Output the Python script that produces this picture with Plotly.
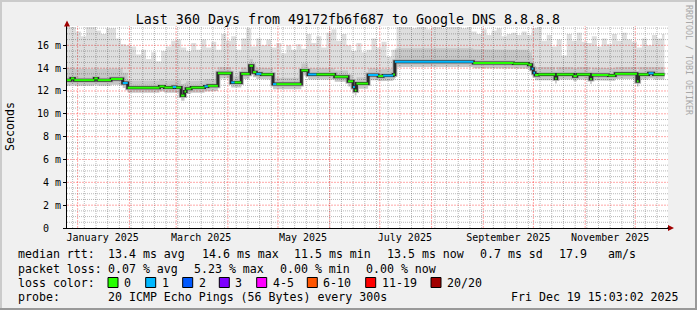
import plotly.graph_objects as go
import pandas as pd

# ---------------- data ----------------
X_START = "2024-12-25 15:00"
X_END = "2025-12-20 15:00"
DATA_END = "2025-12-18 12:00"
Y_MAX = 17.69

y_tick_vals = [0, 2, 4, 6, 8, 10, 12, 14, 16]
y_tick_text = ["0\u00a0\u00a0", "2 m", "4 m", "6 m", "8 m", "10 m", "12 m", "14 m", "16 m"]

month_starts = ["2025-01-01", "2025-02-01", "2025-03-01", "2025-04-01", "2025-05-01", "2025-06-01",
                "2025-07-01", "2025-08-01", "2025-09-01", "2025-10-01", "2025-11-01", "2025-12-01"]
x_label_dates = ["2025-01-16", "2025-03-16", "2025-05-16", "2025-07-16", "2025-09-16", "2025-11-16"]
x_label_text = ["January 2025", "March 2025", "May 2025", "July 2025", "September 2025", "November 2025"]

# median rtt (ms) breakpoints, loss level per segment, smoke bottom / smoke mid-band top
med_dates = ["2024-12-25", "2024-12-28", "2024-12-30", "2025-01-11", "2025-01-13", "2025-01-21",
             "2025-01-28", "2025-01-31", "2025-02-19", "2025-02-22", "2025-02-27", "2025-03-01",
             "2025-03-04", "2025-03-06", "2025-03-07", "2025-03-10", "2025-03-18", "2025-03-20",
             "2025-03-26", "2025-04-03", "2025-04-05", "2025-04-09", "2025-04-14", "2025-04-16",
             "2025-04-18", "2025-04-21", "2025-04-28", "2025-04-30", "2025-05-15", "2025-05-19",
             "2025-05-24", "2025-06-04", "2025-06-12", "2025-06-15", "2025-06-16", "2025-06-17",
             "2025-06-24", "2025-06-30", "2025-07-03", "2025-07-09", "2025-07-10", "2025-08-26",
             "2025-09-19", "2025-09-28", "2025-09-30", "2025-10-01", "2025-10-02", "2025-10-04",
             "2025-10-14", "2025-10-15", "2025-10-25", "2025-10-27", "2025-11-04", "2025-11-05",
             "2025-11-15", "2025-11-19", "2025-12-02", "2025-12-03", "2025-12-09", "2025-12-12"]
med_vals = [12.95, 13.10, 12.95, 13.10, 12.95, 13.05,
            12.70, 12.28, 12.40, 12.30, 12.35, 12.30,
            11.60, 11.95, 12.20, 12.30, 12.40, 12.45,
            13.55, 12.75, 12.75, 13.50, 14.20, 13.65,
            13.50, 13.45, 12.60, 12.60, 13.80, 13.45,
            13.45, 13.25, 12.85, 12.35, 12.05, 12.65,
            13.40, 13.30, 13.35, 13.45, 14.55, 14.45,
            14.40, 14.30, 13.95, 13.60, 13.40, 13.45,
            13.10, 13.45, 13.30, 13.45, 13.05, 13.40,
            13.35, 13.50, 12.85, 13.45, 13.55, 13.45]
med_loss = [0, 0, 0, 0, 0, 0,
            1, 0, 0, 0, 1, 0,
            0, 0, 0, 0, 1, 0,
            0, 1, 0, 0, 0, 0,
            1, 0, 1, 0, 0, 1,
            0, 0, 0, 1, 0, 0,
            1, 0, 1, 0, 1, 0,
            0, 0, 1, 1, 0, 0,
            0, 0, 0, 0, 0, 0,
            0, 0, 0, 0, 1, 0]
smoke_lo = [12.45, 12.55, 12.45, 12.55, 12.45, 12.55,
            12.25, 11.85, 11.95, 11.85, 11.90, 11.85,
            11.15, 11.50, 11.75, 11.85, 11.95, 12.00,
            13.10, 12.30, 12.30, 13.05, 13.70, 13.20,
            13.05, 13.00, 12.15, 12.15, 13.35, 13.00,
            13.00, 12.80, 12.40, 11.90, 11.60, 12.20,
            12.95, 12.85, 12.90, 13.00, 14.10, 14.00,
            13.95, 13.85, 13.50, 13.15, 12.95, 12.95,
            12.65, 13.00, 12.85, 13.00, 12.60, 12.95,
            12.90, 13.05, 12.40, 13.00, 13.10, 13.00]
smoke_mid = [14.00, 14.05, 13.95, 14.05, 13.95, 14.00,
             13.60, 12.90, 13.00, 12.90, 12.95, 12.95,
             12.60, 12.70, 12.85, 12.90, 13.00, 13.05,
             14.10, 13.30, 13.30, 14.05, 14.80, 14.20,
             14.05, 14.00, 13.15, 13.15, 14.40, 14.00,
             14.00, 13.80, 13.40, 12.90, 12.70, 13.20,
             14.00, 13.90, 13.95, 14.00, 15.75, 15.65,
             15.60, 15.40, 14.90, 14.40, 14.10, 14.10,
             13.80, 14.10, 14.00, 14.10, 13.80, 14.05,
             14.00, 14.10, 13.60, 14.10, 14.15, 14.10]

# smoke top (slowest ping) every 3 days from SMOKE_START
SMOKE_START = "2024-12-25"
smoke_max = [17.6, 17.6, 17.2, 16.8, 17.6, 17.6, 17.3, 17.0, 17.5, 17.5,
             16.6, 16.1, 16.0, 15.9, 15.2, 15.6, 14.8, 15.4, 14.6, 15.5,
             15.9, 16.4, 16.5, 15.8, 15.5, 16.2, 15.6, 16.5, 15.8, 16.3,
             15.6, 17.0, 16.4, 16.8, 15.6, 16.6, 17.5, 15.9, 16.6, 16.0,
             16.5, 15.8, 16.2, 15.3, 16.0, 15.6, 16.1, 15.7, 17.0, 16.2,
             16.8, 15.8, 17.1, 17.4, 16.4, 17.0, 16.0, 15.5, 16.2, 15.4,
             15.6, 16.6, 15.8, 16.3, 15.0, 15.6, 17.6, 17.6, 17.6, 17.5,
             17.6, 17.6, 17.4, 17.6, 17.6, 17.5, 17.6, 17.6, 17.6, 17.5,
             17.6, 17.2, 17.0, 17.4, 16.9, 17.3, 17.5, 16.8, 17.0, 17.1,
             16.9, 17.2, 16.9, 17.5, 17.6, 16.4, 16.9, 15.9, 16.5, 15.1,
             17.0, 16.4, 17.1, 16.3, 16.2, 16.8, 15.9, 16.6, 16.1, 17.0,
             16.4, 17.1, 16.5, 16.3, 15.8, 16.6, 16.0, 16.9, 16.6, 17.0]

loss_colors = ["#26ff00", "#00b8ff", "#0059ff", "#7e00ff", "#ff00ff", "#ff5500", "#ff0000", "#a10000"]
loss_labels = ["0", "1", "2", "3", "4-5", "6-10", "11-19", "20/20"]

title_text = "Last 360 Days from 49172fb6f687 to Google DNS 8.8.8.8"
row_median = [("median rtt:", 16.7), ("13.4 ms avg", 107), ("14.6 ms max", 200.7), ("11.5 ms min", 293),
              ("13.5 ms now", 386), ("0.7 ms sd", 479), ("17.9", 558), ("am/s", 607)]
row_loss = [("packet loss:", 16.7), ("0.07 % avg", 107), ("5.23 % max", 192.7), ("0.00 % min", 279),
            ("0.00 % now", 365)]
loss_box_x = [108, 145.7, 182.7, 219.3, 256.7, 307.3, 365.7, 431]
probe_text = "20 ICMP Echo Pings (56 Bytes) every 300s"
stamp_text = "Fri Dec 19 15:03:02 2025"

# ---------------- geometry helpers ----------------
W, H = 697, 310
L, R, T, B = 67, 668, 26, 228
FONT = "DejaVu Sans Mono"


def px(xp):
    return (xp - L) / (R - L)


def py(yp):
    return (B - yp) / (B - T)


def steps(dates, vals, end):
    xs, ys = [], []
    for i, v in enumerate(vals):
        x1 = dates[i + 1] if i + 1 < len(dates) else end
        xs += [dates[i], x1]
        ys += [v, v]
    return xs, ys


smoke_dates = [d.strftime("%Y-%m-%d") for d in pd.date_range(SMOKE_START, periods=len(smoke_max), freq="3D")]

fig = go.Figure()

# outer smoke
tx, ty = steps(smoke_dates, smoke_max, DATA_END)
bx, by = steps(med_dates, smoke_lo, DATA_END)
fig.add_trace(go.Scatter(x=tx + bx[::-1], y=ty + by[::-1], fill="toself", mode="lines",
                         line=dict(width=0), fillcolor="rgba(0,0,0,0.13)", hoverinfo="skip"))
# mid smoke band
mx, my = steps(med_dates, smoke_mid, DATA_END)
fig.add_trace(go.Scatter(x=mx + bx[::-1], y=my + by[::-1], fill="toself", mode="lines",
                         line=dict(width=0), fillcolor="rgba(0,0,0,0.10)", hoverinfo="skip"))
# dense smoke around median
line_x = med_dates + [DATA_END]
line_y = med_vals + [med_vals[-1]]
fig.add_trace(go.Scatter(x=line_x, y=line_y, mode="lines", line=dict(shape="hv", width=5, color="#b4b4b4"),
                         hoverinfo="skip"))
fig.add_trace(go.Scatter(x=line_x, y=line_y, mode="lines", line=dict(shape="hv", width=3, color="#2a2a2a"),
                         hoverinfo="skip"))

# loss-coloured median segments
for lvl in sorted(set(med_loss)):
    xs, ys = [], []
    for i, v in enumerate(med_vals):
        if med_loss[i] != lvl:
            continue
        x1 = med_dates[i + 1] if i + 1 < len(med_dates) else DATA_END
        xs += [med_dates[i], x1, None]
        ys += [v, v, None]
    fig.add_trace(go.Scatter(x=xs, y=ys, mode="lines",
                             line=dict(width=2, color=loss_colors[lvl]), hoverinfo="skip"))

MGRID = "rgba(255,0,0,0.35)"
GRID = "rgba(0,0,0,0.28)"
DASH = "1px,1px"

shapes = []
# grid (drawn under the data)
for d in pd.date_range("2024-12-29", "2025-12-20", freq="7D"):
    shapes.append(dict(type="line", xref="x", yref="paper", x0=d.strftime("%Y-%m-%d"), x1=d.strftime("%Y-%m-%d"),
                       y0=0, y1=1, layer="below", line=dict(width=1, color=GRID, dash=DASH)))
for k in range(1, 36):
    yv = k * 0.5
    if yv > Y_MAX:
        break
    if k % 4:
        shapes.append(dict(type="line", xref="paper", yref="y", x0=0, x1=1, y0=yv, y1=yv, layer="below",
                           line=dict(width=1, color=GRID, dash=DASH)))
for m in month_starts:
    shapes.append(dict(type="line", xref="x", yref="paper", x0=m, x1=m, y0=0, y1=1, layer="below",
                       line=dict(width=1, color=MGRID, dash="2px,1px")))
for yv in y_tick_vals[1:]:
    shapes.append(dict(type="line", xref="paper", yref="y", x0=0, x1=1, y0=yv, y1=yv, layer="below",
                       line=dict(width=1, color=MGRID, dash="2px,1px")))

annotations = []


def txt(s, xp, yp, anchor="left", size=11.6, color="#000", angle=0):
    annotations.append(dict(text=s, x=px(xp), y=py(yp), xref="paper", yref="paper", xanchor=anchor,
                            yanchor="middle", showarrow=False, borderpad=0, textangle=angle,
                            font=dict(family=FONT, size=size, color=color)))


for s, x in row_median:
    txt(s, x, 254.5)
for s, x in row_loss:
    txt(s, x, 268.5)
txt("loss color:", 16.7, 282.5)
for bxp, lab in zip(loss_box_x, loss_labels):
    txt(lab, bxp + 15, 282.5)
txt("probe:", 16.7, 296.5)
txt(probe_text, 107, 296.5)
txt(stamp_text, 680, 296.5, anchor="right")
txt("Seconds", 10, 127, anchor="center", size=11.6, angle=-90)
txt("RRDTOOL / TOBI OETIKER", 689, 60, anchor="center", size=8.3, color="#a8a8a8", angle=90)

# 3d border
for x0, y0, x1, y1, c in [(0, 0, 697, 2, "#cbcbcb"), (0, 0, 2, 310, "#cbcbcb"),
                          (695, 0, 697, 310, "#999999"), (0, 308, 697, 310, "#999999")]:
    shapes.append(dict(type="rect", xref="paper", yref="paper", x0=px(x0), x1=px(x1), y0=py(y0), y1=py(y1),
                       fillcolor=c, line=dict(width=0), layer="above"))
# legend colour boxes
for bxp, c in zip(loss_box_x, loss_colors):
    shapes.append(dict(type="rect", xref="paper", yref="paper", x0=px(bxp), x1=px(bxp + 10),
                       y0=py(287.5), y1=py(277.5), fillcolor=c, line=dict(width=1, color="#000")))
# axis arrows
arrow = "#a00000"
shapes.append(dict(type="path", xref="paper", yref="paper",
                   path=f"M {px(64)},{py(26.5)} L {px(70)},{py(26.5)} L {px(67)},{py(20.5)} Z",
                   fillcolor=arrow, line=dict(width=0)))
shapes.append(dict(type="path", xref="paper", yref="paper",
                   path=f"M {px(668)},{py(225)} L {px(668)},{py(231)} L {px(674)},{py(228)} Z",
                   fillcolor=arrow, line=dict(width=0)))
shapes.append(dict(type="line", xref="paper", yref="paper", x0=px(667), x1=px(669), y0=py(228), y1=py(228),
                   line=dict(width=1, color="#000")))

fig.update_layout(
    width=W, height=H,
    margin=dict(l=L, r=W - R, t=T, b=H - B, pad=0),
    paper_bgcolor="#f0f0f0", plot_bgcolor="#ffffff", showlegend=False,
    font=dict(family=FONT, color="#000"),
    title=dict(text=title_text, x=348 / W, xanchor="center", xref="container",
               y=1 - 19 / H, yanchor="middle", yref="container", font=dict(family=FONT, size=13.3)),
    xaxis=dict(type="date", range=[X_START, X_END], showgrid=False,
               tickmode="array", tickvals=x_label_dates, ticktext=x_label_text, ticks="",
               tickfont=dict(family=FONT, size=10),
               showline=True, linecolor="#000", linewidth=1, zeroline=False),
    yaxis=dict(range=[0, Y_MAX], tickmode="array", tickvals=y_tick_vals, ticktext=y_tick_text,
               showgrid=False,
               showline=True, linecolor="#000", linewidth=1, ticks="outside", ticklen=3, tickcolor="#000",
               tickfont=dict(family=FONT, size=10), zeroline=False),
    annotations=annotations, shapes=shapes,
)

fig.write_html("out.html")
